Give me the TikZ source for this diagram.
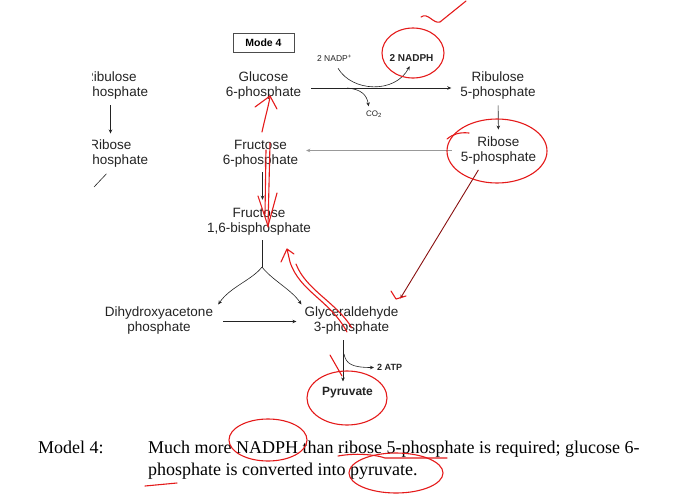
\documentclass[tikz,border=0pt]{standalone}
\usepackage{fontspec}
\setmainfont{Liberation Serif}
\setsansfont{Liberation Sans}
\usetikzlibrary{arrows.meta}

\definecolor{ink}{RGB}{35,35,35}
\definecolor{pen}{RGB}{228,26,26}

\begin{document}
\begin{tikzpicture}[x=1pt, y=-1pt,
        metab/.style={align=center, inner sep=2pt, ink, font=\sffamily\fontsize{13.5}{15}\selectfont},
        cofac/.style={inner sep=1pt, ink, font=\sffamily\fontsize{8.5}{10}\selectfont},
        arrowstyle/.style={-{Stealth[length=4pt,width=3.5pt]}, line width=0.6pt, ink},
        penstroke/.style={pen, line width=1.1pt, line cap=round, line join=round}
    ]
    \useasboundingbox (0,0) rectangle (673,504);

    % mode 4 pathway
    \node[draw=gray!60!black, line width=1pt, minimum width=61pt, minimum height=19pt, inner sep=1pt,
          font=\sffamily\bfseries\fontsize{10.5}{12}\selectfont] (mode) at (263.5,42.5) {Mode 4};
    \node[metab] (g6p) at (263.5,85.5) {Glucose\\6-phosphate};
    \node[metab] (ru5p) at (498,85.5) {Ribulose\\5-phosphate};
    \node[metab] (r5p) at (498.5,150.5) {Ribose\\5-phosphate};
    \node[metab] (f6p) at (260.5,153.5) {Fructose\\6-phosphate};
    \node[metab] (fbp) at (259,221.5) {Fructose\\1,6-bisphosphate};
    \node[metab] (dhap) at (159,320.5) {Dihydroxyacetone\\phosphate};
    \node[metab] (gap) at (351.5,320.5) {Glyceraldehyde\\3-phosphate};
    \node[metab, font=\sffamily\bfseries\fontsize{12}{14}\selectfont] (pyr) at (347.5,393) {Pyruvate};

    \node[cofac] (nadp) at (334.5,58) {2 NADP\textsuperscript{+}};
    \node[cofac, font=\sffamily\bfseries\fontsize{10}{12}\selectfont] (nadph) at (411.5,58) {2 NADPH};
    \node[cofac, font=\sffamily\fontsize{8}{10}\selectfont] (co2) at (374,114) {CO\textsubscript{2}};
    \node[cofac, anchor=west, font=\sffamily\bfseries\fontsize{9}{11}\selectfont] (atp) at (376,367.5) {2 ATP};

    \coordinate (co2fork) at (347,88);
    \coordinate (split) at (262,267);
    \coordinate (atpfork) at (344,354);

    \draw[arrowstyle, shorten <=8pt, shorten >=7pt] ([yshift=-2.5pt]g6p.east) -- ([yshift=-2.5pt]ru5p.west);
    \draw[arrowstyle, shorten <=7pt, shorten >=4pt] (nadp.south) .. controls (352,92) and (395,94) .. (nadph.south);
    \draw[arrowstyle, shorten >=3pt] (co2fork) .. controls (361,89) and (367,95) .. ([xshift=-5pt]co2.north);
    \draw[arrowstyle, shorten <=4pt, shorten >=5pt] (ru5p) -- (r5p);
    \draw[arrowstyle, gray!80, line width=0.5pt, shorten <=7pt, shorten >=6pt] (r5p.west) -- (r5p.west -| f6p.east);
    \draw[arrowstyle, shorten <=3pt, shorten >=6pt] ([xshift=2pt]f6p.south) -- ([xshift=2pt]f6p.south |- fbp.north);
    \draw[line width=0.6pt, ink, shorten <=3pt] ([xshift=3pt]fbp.south) -- (split);
    \draw[arrowstyle] (split) .. controls (252,280) and (230,287) .. ([xshift=3pt]dhap.north east);
    \draw[arrowstyle] (split) .. controls (272,280) and (292,290) .. ([xshift=-1pt]gap.north west);
    \draw[arrowstyle, shorten <=8pt, shorten >=6pt] ([yshift=-1pt]dhap.east) -- ([yshift=-1pt]gap.west);
    \draw[arrowstyle, pen!60!black, line width=0.9pt, shorten <=4pt, shorten >=7pt] ([xshift=-18pt]r5p.south) -- ([xshift=-4pt]gap.north east);
    \draw[arrowstyle, shorten <=4pt, shorten >=4pt] ([xshift=-8.5pt]gap.south) -- ([xshift=-4.5pt]pyr.north);
    \draw[arrowstyle, shorten >=2pt] (atpfork) .. controls (346,364) and (352,367.5) .. (atp.west);

    % mode 3 column, cut off at the left edge
    \begin{scope}
        \clip (92,60) rectangle (200,200);
        \node[metab] (ru5pL) at (110.5,85.5) {Ribulose\\5-phosphate};
        \node[metab] (r5pL) at (110.5,153.5) {Ribose\\5-phosphate};
        \coordinate (cutL) at (94,187);
        \draw[arrowstyle, shorten <=4pt, shorten >=4pt] (ru5pL) -- (r5pL);
        \draw[line width=0.6pt, ink, shorten <=6pt] (r5pL.south) -- (cutL);
    \end{scope}

    % caption
    \node[anchor=base west, inner sep=0pt, font=\fontsize{18}{22}\selectfont] (capmode) at (38,453) {Model 4:};
    \node[anchor=base west, inner sep=0pt, font=\fontsize{18}{22}\selectfont] (capA) at (148,453)
        {Much more NADPH than ribose 5-phosphate is required; glucose 6-};
    \node[anchor=base west, inner sep=0pt, font=\fontsize{18}{22}\selectfont] (capB) at (148,475)
        {phosphate is converted into pyruvate.};

    % red pen marks
    \draw[penstroke] (421,17) .. controls (428,12) and (433,24) .. (440,22) -- (466,1);
    \draw[penstroke] (413,53) ellipse [x radius=31, y radius=25];
    \draw[penstroke] (497,151) ellipse [x radius=50, y radius=32];
    \draw[penstroke] (447,139) .. controls (453,134) and (460,132) .. (469,133);
    \draw[penstroke] (262,132) .. controls (265,118) and (268,108) .. (270,97);
    \draw[penstroke] (255,107) -- (270,96) -- (277,109);
    \draw[penstroke] (270,143) -- (268,227);
    \draw[penstroke] (266,150) -- (265,214);
    \draw[penstroke] (258,196) -- (268,226) -- (277,193);
    \draw[penstroke] (347,332) .. controls (330,300) and (300,292) .. (290,262) -- (287,249) -- (294,254);
    \draw[penstroke] (352,328) .. controls (336,302) and (306,290) .. (296,264);
    \draw[penstroke] (281,262) -- (287,249);
    \draw[penstroke] (391,291) -- (396,299) -- (406,296);
    \draw[penstroke] (330,355) -- (342,376);
    \draw[penstroke] (347,398) ellipse [x radius=40, y radius=27];
    \draw[penstroke] (268,440) ellipse [x radius=39, y radius=21];
    \draw[penstroke] (338,456) .. controls (360,452) and (380,456) .. (385,458) -- (447,458);
    \draw[penstroke] (396,473) ellipse [x radius=47, y radius=20];
    \draw[penstroke] (145,486) -- (177,483);
\end{tikzpicture}
\end{document}
